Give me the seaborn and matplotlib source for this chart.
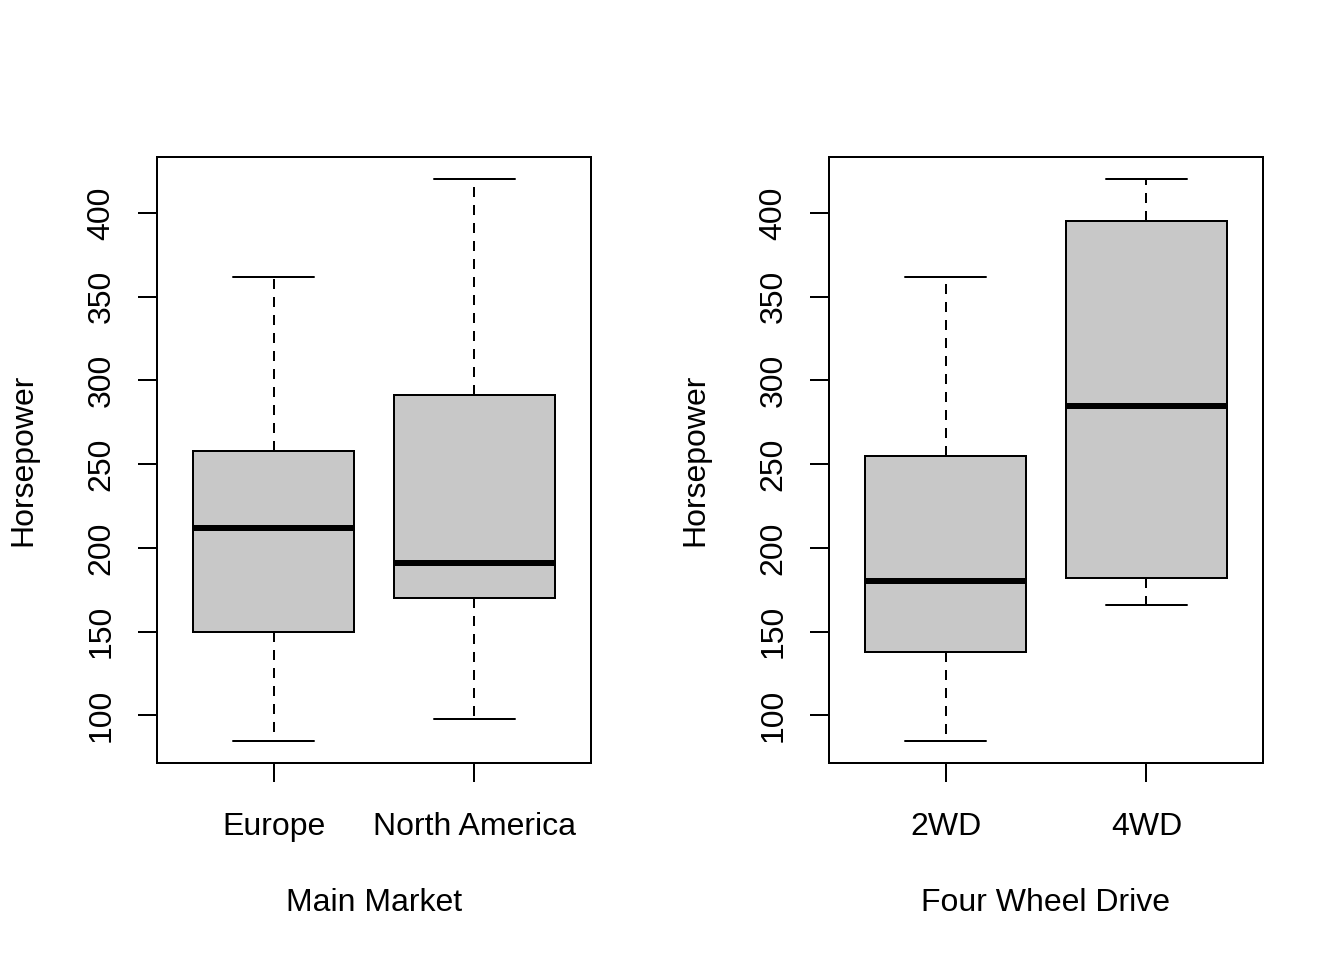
import numpy as np
import pandas as pd
import matplotlib
matplotlib.use("Agg")
import matplotlib.pyplot as plt
import seaborn as sns

# --- data (five-number summaries) ---
market_groups = ["Europe", "North America"]
europe_hp = [85, 150, 212, 258, 362]
north_america_hp = [98, 170, 191, 291, 420]

drive_groups = ["2WD", "4WD"]
two_wd_hp = [85, 138, 180, 255, 362]
four_wd_hp = [166, 182, 285, 395, 420]

y_ticks = [100, 150, 200, 250, 300, 350, 400]

market_df = pd.DataFrame({
    "group": ["Europe"] * len(europe_hp) + ["North America"] * len(north_america_hp),
    "hp": europe_hp + north_america_hp,
})
drive_df = pd.DataFrame({
    "group": ["2WD"] * len(two_wd_hp) + ["4WD"] * len(four_wd_hp),
    "hp": two_wd_hp + four_wd_hp,
})

sns.set_style("ticks")
plt.rcParams["font.family"] = ["Liberation Sans", "DejaVu Sans"]
plt.rcParams["font.size"] = 12
plt.rcParams["text.color"] = "black"
plt.rcParams["axes.labelcolor"] = "black"

fig = plt.figure(figsize=(7, 5), dpi=192)
ax1 = fig.add_axes([0.1168, 0.2052, 0.3229, 0.6313])
ax2 = fig.add_axes([0.6168, 0.2052, 0.3229, 0.6313])


def draw_panel(ax, df, order, xlabel):
    sns.boxplot(
        data=df, x="group", y="hp", order=order, ax=ax,
        color="#C8C8C8", linecolor="black", linewidth=0.75,
        width=0.8, whis=(0, 100), saturation=1, fliersize=0,
        medianprops={"linewidth": 2.25},
        whiskerprops={"linestyle": (0, (5, 4))},
    )
    ax.set_xlim(-0.58, 1.58)
    ax.set_ylim(71.6, 433.4)
    ax.set_yticks(y_ticks)
    ax.set_yticklabels([str(t) for t in y_ticks])
    for sp in ax.spines.values():
        sp.set_visible(True)
        sp.set_linewidth(0.75)
        sp.set_color("black")
    ax.tick_params(axis="both", direction="out", length=7.2, width=0.75,
                   color="black", labelsize=12, labelcolor="black")
    ax.tick_params(axis="x", pad=11)
    ax.tick_params(axis="y", pad=8, labelrotation=90)
    for lab in ax.get_yticklabels():
        lab.set_va("center")
    ax.set_xlabel(xlabel, fontsize=12, labelpad=17.5, color="black")
    ax.set_ylabel("Horsepower", fontsize=12, labelpad=18, color="black")


draw_panel(ax1, market_df, market_groups, "Main Market")
draw_panel(ax2, drive_df, drive_groups, "Four Wheel Drive")

fig.savefig("out.png", dpi=192, facecolor="white")
